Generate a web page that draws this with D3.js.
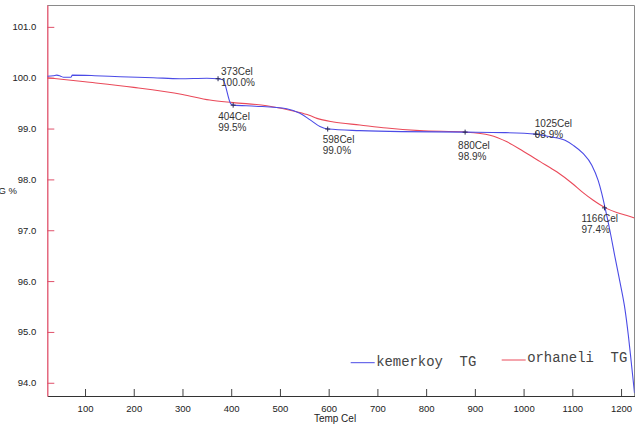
<!DOCTYPE html>
<html>
<head>
<meta charset="utf-8">
<script src="https://cdn.jsdelivr.net/npm/d3@7"></script>
<style>
  body { margin: 0; background: #fff; }
</style>
</head>
<body>
<div id="chart"></div>
<script>
// kemerkoy TG (blue)
const kemTemp = [22.6, 35, 42, 50, 56, 71, 74, 120, 172, 240, 295, 350, 373, 383, 399, 404,
  450, 514, 541, 562, 582, 599, 664, 750, 880, 960, 1025, 1054, 1085, 1102, 1122, 1140,
  1153, 1160, 1167, 1177, 1188, 1198, 1208, 1215, 1221, 1227.6];
const kemVal = [100.03, 100.04, 100.05, 100.03, 100.01, 100.01, 100.05, 100.04, 100.02, 100.0,
  99.98, 99.99, 99.98, 99.96, 99.49, 99.46, 99.44, 99.39, 99.30, 99.17, 99.04, 98.99, 98.96,
  98.94, 98.93, 98.92, 98.89, 98.84, 98.77, 98.67, 98.51, 98.28, 97.98, 97.74, 97.45,
  97.00, 96.45, 95.97, 95.45, 94.93, 94.40, 93.80];

// orhaneli TG (red)
const orhTemp = [22.6, 100, 200, 300, 356, 404, 473, 534, 560, 576, 610, 664, 719, 787, 880,
  931, 966, 1000, 1034, 1068, 1100, 1122, 1143, 1168, 1191, 1212, 1227.6];
const orhVal = [100.0, 99.92, 99.81, 99.67, 99.56, 99.51, 99.45, 99.33, 99.26, 99.2, 99.13,
  99.07, 99.01, 98.96, 98.93, 98.87, 98.74, 98.55, 98.35, 98.15, 97.92, 97.74, 97.59, 97.44,
  97.35, 97.29, 97.24];

// marked points on the kemerkoy curve
const markTemp = [373, 404, 598, 880, 1025, 1166];
const markVal = [99.98, 99.46, 98.99, 98.93, 98.89, 97.44];

const seriesNames = ["kemerkoy  TG", "orhaneli  TG"];
const seriesColors = ["#4b4be6", "#ea4a5a"];

const xTicks = [100, 200, 300, 400, 500, 600, 700, 800, 900, 1000, 1100, 1200];
const yTicks = [94, 95, 96, 97, 98, 99, 100, 101];

// label placement relative to each marker [dx, dy of first line]
const labelOffset = [[3, -4], [-15, 15], [-5, 14], [-7, 17], [-1, -7], [-23, 14]];

const width = 640;
const height = 427;
const margin = {top: 5, right: 5.5, bottom: 31, left: 47.3};

const x = d3.scaleLinear()
    .domain([22.6, 1227.6])
    .range([margin.left, width - margin.right]);

const y = d3.scaleLinear()
    .domain([93.74, 101.43])
    .range([height - margin.bottom, margin.top]);

const svg = d3.create("svg")
    .attr("width", width)
    .attr("height", height)
    .attr("viewBox", [0, 0, width, height])
    .attr("style", "font-family: 'Liberation Sans', Arial, sans-serif;");

svg.append("clipPath")
    .attr("id", "plot")
  .append("rect")
    .attr("x", margin.left)
    .attr("y", margin.top)
    .attr("width", width - margin.left - margin.right)
    .attr("height", height - margin.top - margin.bottom);

// frame: top + right grey
svg.append("path")
    .attr("fill", "none")
    .attr("stroke", "#8a8a8a")
    .attr("d", `M${margin.left},${margin.top + 0.5}H${width - margin.right}V${height - margin.bottom}`);

// x axis
const xAxis = svg.append("g")
    .attr("transform", `translate(0,${height - margin.bottom})`)
    .call(d3.axisBottom(x).tickValues(xTicks).tickSize(0).tickPadding(9).tickFormat(d3.format("d")));
xAxis.select(".domain").attr("stroke", "#333");
xAxis.selectAll("text").attr("font-size", 9.5).attr("fill", "#222").attr("font-family", null);
xAxis.selectAll(".tick").append("line")
    .attr("y1", 0)
    .attr("y2", -7)
    .attr("stroke", "#444");

// y axis
const yAxis = svg.append("g")
    .attr("transform", `translate(${margin.left},0)`)
    .call(d3.axisLeft(y).tickValues(yTicks).tickSize(0).tickPadding(11).tickFormat(d3.format(".1f")));
yAxis.select(".domain").attr("stroke", "#e0506a").attr("stroke-width", 1.3);
yAxis.selectAll("text").attr("font-size", 9.5).attr("fill", "#222").attr("font-family", null);
yAxis.selectAll(".tick").append("line")
    .attr("x1", 0)
    .attr("x2", 7)
    .attr("stroke", "#e0506a");

svg.append("text")
    .attr("x", 17)
    .attr("y", 194)
    .attr("text-anchor", "end")
    .attr("font-size", 9.5)
    .attr("fill", "#222")
    .text("TG %");

svg.append("text")
    .attr("x", 335)
    .attr("y", 422)
    .attr("text-anchor", "middle")
    .attr("font-size", 10)
    .attr("fill", "#222")
    .text("Temp Cel");

// curves
const line = d3.line()
    .x(d => x(d[0]))
    .y(d => y(d[1]))
    .curve(d3.curveMonotoneX);

const curves = [d3.zip(kemTemp, kemVal), d3.zip(orhTemp, orhVal)];

svg.append("g")
    .attr("clip-path", "url(#plot)")
    .attr("fill", "none")
    .attr("stroke-width", 1.1)
    .selectAll()
    .data([1, 0])
    .join("path")
      .attr("stroke", i => seriesColors[i])
      .attr("d", i => line(curves[i]));

// markers + labels
const marks = svg.append("g")
    .selectAll()
    .data(d3.zip(markTemp, markVal, labelOffset))
    .join("g")
      .attr("transform", d => `translate(${x(d[0])},${y(d[1])})`);

marks.append("path")
    .attr("d", "M-2.5,0H2.5M0,-2.5V2.5")
    .attr("stroke", "#2a2a55")
    .attr("stroke-width", 1);

marks.append("text")
    .attr("font-size", 10)
    .attr("fill", "#333")
    .selectAll("tspan")
    .data(d => [[`${d[0]}Cel`, d[2][0], d[2][1]], [`${d[1].toFixed(1)}%`, d[2][0], d[2][1] + 11]])
    .join("tspan")
      .attr("x", d => d[1])
      .attr("y", d => d[2])
      .text(d => d[0]);

// legend
const legendPos = [[350.7, 366, 362.7], [501.7, 362, 360]];
const legend = svg.append("g")
    .selectAll()
    .data(seriesNames)
    .join("g");

legend.append("line")
    .attr("x1", (d, i) => legendPos[i][0])
    .attr("x2", (d, i) => legendPos[i][0] + 24)
    .attr("y1", (d, i) => legendPos[i][2])
    .attr("y2", (d, i) => legendPos[i][2])
    .attr("stroke", (d, i) => seriesColors[i]);

legend.append("text")
    .attr("x", (d, i) => legendPos[i][0] + 25.5)
    .attr("y", (d, i) => legendPos[i][1])
    .attr("font-family", "'Liberation Mono', 'Courier New', monospace")
    .attr("font-size", 13.9)
    .attr("fill", "#444")
    .style("white-space", "pre")
    .text(d => d);

d3.select("#chart").append(() => svg.node());
</script>
</body>
</html>
